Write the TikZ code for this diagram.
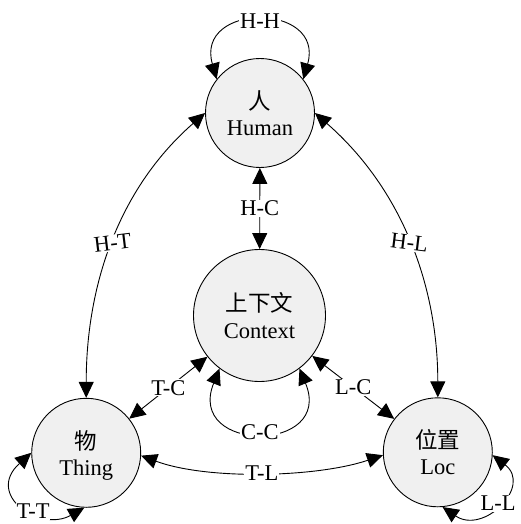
\documentclass[tikz,border=0pt]{standalone}
\usepackage{fontspec}
\setmainfont{Liberation Serif}
\newfontfamily\cjk{Noto Sans CJK SC}
\usetikzlibrary{arrows.meta}
\definecolor{nodefill}{RGB}{240,240,240}
\begin{document}
\begin{tikzpicture}[x=1pt,y=1pt,
  ent/.style={circle,draw=black,line width=0.9pt,fill=nodefill,align=center,inner sep=0pt,
    font=\fontsize{22.5}{26.5}\selectfont},
  smallent/.style={ent,minimum size=109pt},
  bigent/.style={ent,minimum size=132pt},
  rel/.style={line width=0.9pt,{Triangle[length=16pt,width=15pt]}-{Triangle[length=16pt,width=15pt]}},
  lab/.style={fill=white,inner sep=1pt,font=\fontsize{22.5}{24}\selectfont}]
\useasboundingbox (0,0) rectangle (520,-524);
\node[smallent] (H) at (260,-113) {{\cjk 人}\\Human};
\node[bigent] (C) at (259.5,-315.5) {{\cjk 上下文}\\Context};
\node[smallent] (T) at (86.2,-452.8) {{\cjk 物}\\\smash{Thing}};
\node[smallent] (L) at (437.8,-452.3) {{\cjk 位置}\\Loc};
% loops
\draw[rel] (H.142) .. controls +(-22,77) and +(22,77) .. (H.38) node[lab,pos=0.5]{H-H};
\draw[rel] (C.233) .. controls +(-34,-85) and +(35,-85) .. (C.307) node[lab,pos=0.5]{C-C};
\draw[rel] (T.180) .. controls +(-46.7,-42.2) and +(-44.3,-24.8) .. (T.268) node[lab,pos=0.6]{T-T};
\draw[rel] (L.357) .. controls +(40,-31) and +(41,-28) .. (L.275) node[lab,pos=0.5]{L-L};
% curved relations
\draw[rel] (H.180) .. controls +(-88,-77) and +(0,110) .. (T.90) node[lab,pos=0.5,rotate=7]{H-T};
\draw[rel] (H.0) .. controls +(88,-77) and +(0,110) .. (L.90) node[lab,pos=0.5,rotate=-7]{H-L};
\draw[rel] (T.-3) .. controls +(66,-24.5) and +(-66.5,-22.4) .. (L.183) node[lab,pos=0.5]{T-L};
% straight relations
\draw[rel] (H) -- (C) node[lab,midway]{H-C};
\draw[rel] (T) -- (C) node[lab,midway]{T-C};
\draw[rel] (C) -- (L) node[lab,midway]{L-C};
\end{tikzpicture}
\end{document}
